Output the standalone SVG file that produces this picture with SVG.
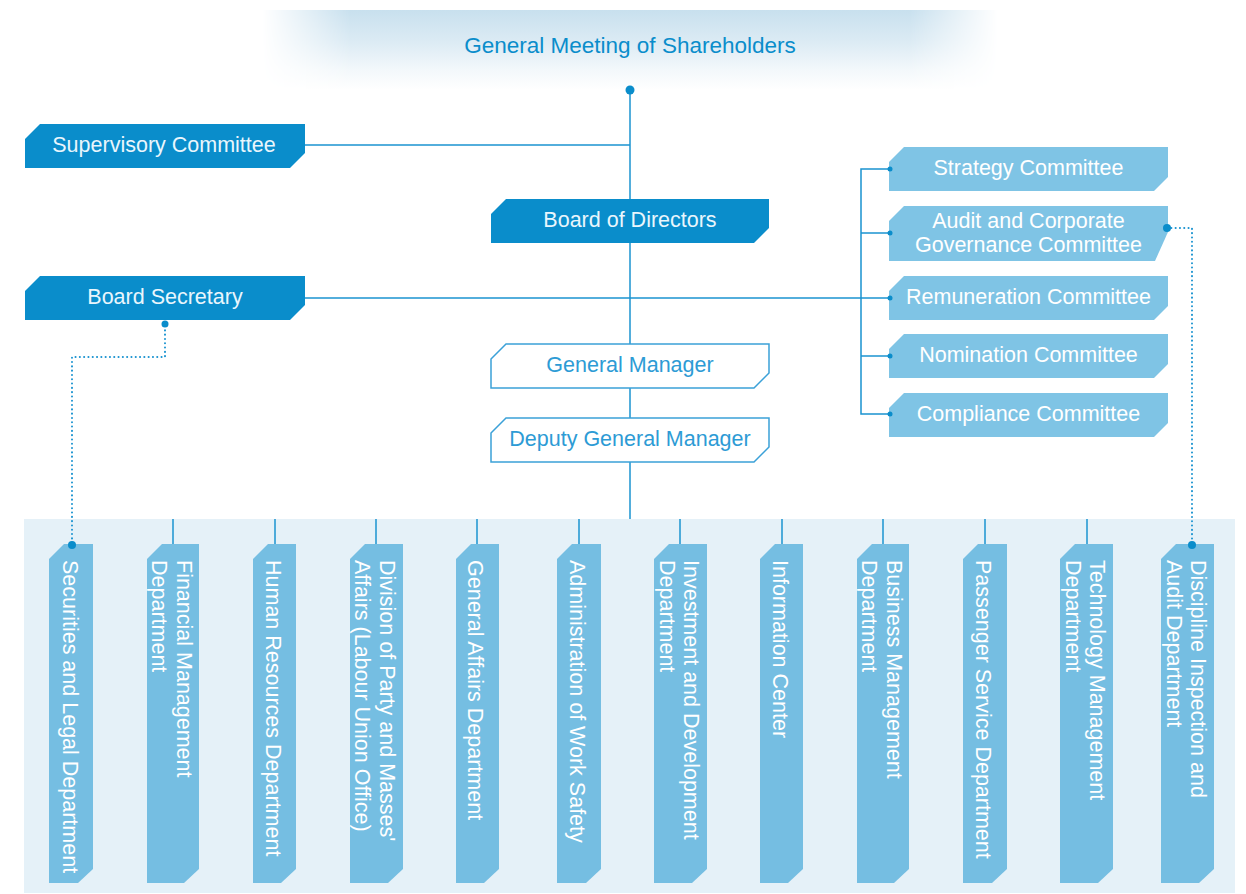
<svg xmlns="http://www.w3.org/2000/svg" width="1246" height="894" viewBox="0 0 1246 894">
<defs>
<linearGradient id="hdr" x1="0" y1="0" x2="0" y2="1">
<stop offset="0" stop-color="#c8e0ee"/>
<stop offset="0.4" stop-color="#dcebf4"/>
<stop offset="0.75" stop-color="#f3f8fb"/>
<stop offset="1" stop-color="#ffffff"/>
</linearGradient>
<linearGradient id="fadeH" x1="0" y1="0" x2="1" y2="0">
<stop offset="0" stop-color="#fff" stop-opacity="0"/>
<stop offset="0.12" stop-color="#fff" stop-opacity="1"/>
<stop offset="0.88" stop-color="#fff" stop-opacity="1"/>
<stop offset="1" stop-color="#fff" stop-opacity="0"/>
</linearGradient>
<mask id="hdrMask" maskUnits="userSpaceOnUse" x="262" y="10" width="736" height="80">
<rect x="262" y="10" width="736" height="80" fill="url(#fadeH)"/>
</mask>
<style>
text{font-family:"Liberation Sans",Arial,Helvetica,sans-serif;font-size:21.5px}
.dark{fill:#0a8dcb}
.light{fill:#7fc4e5}
.dept{fill:#75bee2}
.outline{fill:#ffffff;stroke:#3ba1d8;stroke-width:1.5}
.tw{fill:#e9f6fd;text-anchor:middle}
.tl{fill:#ffffff;text-anchor:middle}
.tb{fill:#2d9bd5;text-anchor:middle}
.td{fill:#ffffff}
.ln{stroke:#1a93d0;stroke-width:1.5;fill:none}
.dot{fill:#0a8dcb}
.dash{stroke:#1a93d0;stroke-width:2;fill:none;stroke-dasharray:0.1 4.2;stroke-linecap:round}
</style>
</defs>
<rect x="0" y="0" width="1246" height="894" fill="#ffffff"/>
<rect x="262" y="10" width="736" height="80" fill="url(#hdr)" mask="url(#hdrMask)"/>
<rect x="24" y="519" width="1211" height="374" fill="#e5f1f8"/>

<g id="connectors">
<line class="ln" x1="630" y1="90" x2="630" y2="519"/>
<line class="ln" x1="305" y1="145" x2="630" y2="145"/>
<line class="ln" x1="305" y1="298" x2="889" y2="298"/>
<polyline class="ln" points="889,169 861,169 861,414 889,414"/>
<line class="ln" x1="861" y1="233" x2="889" y2="233"/>
<line class="ln" x1="861" y1="356" x2="889" y2="356"/>
<line class="ln" x1="173" y1="519" x2="173" y2="544"/>
<line class="ln" x1="275" y1="519" x2="275" y2="544"/>
<line class="ln" x1="376" y1="519" x2="376" y2="544"/>
<line class="ln" x1="477" y1="519" x2="477" y2="544"/>
<line class="ln" x1="579" y1="519" x2="579" y2="544"/>
<line class="ln" x1="680" y1="519" x2="680" y2="544"/>
<line class="ln" x1="782" y1="519" x2="782" y2="544"/>
<line class="ln" x1="883" y1="519" x2="883" y2="544"/>
<line class="ln" x1="985" y1="519" x2="985" y2="544"/>
<line class="ln" x1="1087" y1="519" x2="1087" y2="544"/>
<polyline class="dash" points="165,326 165,357 72,357 72,545"/>
<polyline class="dash" points="1167,228 1192,228 1192,545"/>
</g>

<g id="shareholders">
<text x="630" y="53" style="font-size:22.5px;fill:#0a8dcb;text-anchor:middle">General Meeting of Shareholders</text>
</g>

<g id="supervisory">
<polygon class="dark" points="25,139 40,124 305,124 305,153 290,168 25,168"/>
<text class="tw" x="164" y="152">Supervisory Committee</text>
</g>
<g id="board">
<polygon class="dark" points="491,214 506,199 769,199 769,228 754,243 491,243"/>
<text class="tw" x="630" y="227">Board of Directors</text>
</g>
<g id="secretary">
<polygon class="dark" points="25,291 40,276 305,276 305,305 290,320 25,320"/>
<text class="tw" x="165" y="304">Board Secretary</text>
</g>
<g id="gm">
<polygon class="outline" points="491,359 506,344 769,344 769,373 754,388 491,388"/>
<text class="tb" x="630" y="372">General Manager</text>
</g>
<g id="dgm">
<polygon class="outline" points="491,433 506,418 769,418 769,447 754,462 491,462"/>
<text class="tb" x="630" y="446">Deputy General Manager</text>
</g>

<g id="strategy">
<polygon class="light" points="889,162 904,147 1168,147 1168,177 1154,191 889,191"/>
<text class="tl" x="1028.5" y="175">Strategy Committee</text>
</g>
<g id="audit">
<polygon class="light" points="889,221 904,206 1168,206 1168,232 1155,261 889,261"/>
<text class="tl" x="1028.5" y="227.5">Audit and Corporate</text>
<text class="tl" x="1028.5" y="252">Governance Committee</text>
</g>
<g id="remuneration">
<polygon class="light" points="889,291 904,276 1168,276 1168,306 1154,320 889,320"/>
<text class="tl" x="1028.5" y="304">Remuneration Committee</text>
</g>
<g id="nomination">
<polygon class="light" points="889,349 904,334 1168,334 1168,364 1154,378 889,378"/>
<text class="tl" x="1028.5" y="362">Nomination Committee</text>
</g>
<g id="compliance">
<polygon class="light" points="889,408 904,393 1168,393 1168,423 1154,437 889,437"/>
<text class="tl" x="1028.5" y="421">Compliance Committee</text>
</g>

<g id="dept-securities">
<polygon class="dept" points="49,559 64,544 93,544 93,869 78,883 49,883"/>
<text class="td" transform="translate(62.5,560) rotate(90)">Securities and Legal Department</text>
</g>
<g id="dept-financial">
<polygon class="dept" points="147,559 162,544 199,544 199,869 184,883 147,883"/>
<text class="td" transform="translate(177,560) rotate(90)">Financial Management</text>
<text class="td" transform="translate(152,560) rotate(90)">Department</text>
</g>
<g id="dept-hr">
<polygon class="dept" points="253,559 268,544 296,544 296,869 281,883 253,883"/>
<text class="td" transform="translate(265.5,560) rotate(90)">Human Resources Department</text>
</g>
<g id="dept-party">
<polygon class="dept" points="350,559 365,544 403,544 403,869 388,883 350,883"/>
<text class="td" transform="translate(379.5,560) rotate(90)">Division of Party and Masses'</text>
<text class="td" transform="translate(355,560) rotate(90)">Affairs (Labour Union Office)</text>
</g>
<g id="dept-general">
<polygon class="dept" points="456,559 471,544 499,544 499,869 484,883 456,883"/>
<text class="td" transform="translate(468,560) rotate(90)">General Affairs Department</text>
</g>
<g id="dept-safety">
<polygon class="dept" points="557,559 572,544 601,544 601,869 586,883 557,883"/>
<text class="td" transform="translate(570,560) rotate(90)">Administration of Work Safety</text>
</g>
<g id="dept-investment">
<polygon class="dept" points="654,559 669,544 707,544 707,869 692,883 654,883"/>
<text class="td" transform="translate(684,560) rotate(90)">Investment and Development</text>
<text class="td" transform="translate(659.5,560) rotate(90)">Department</text>
</g>
<g id="dept-info">
<polygon class="dept" points="760,559 775,544 803,544 803,869 788,883 760,883"/>
<text class="td" transform="translate(772.5,560) rotate(90)">Information Center</text>
</g>
<g id="dept-business">
<polygon class="dept" points="857,559 872,544 909,544 909,869 894,883 857,883"/>
<text class="td" transform="translate(887,560) rotate(90)">Business Management</text>
<text class="td" transform="translate(862,560) rotate(90)">Department</text>
</g>
<g id="dept-passenger">
<polygon class="dept" points="963,559 978,544 1007,544 1007,869 992,883 963,883"/>
<text class="td" transform="translate(976,560) rotate(90)">Passenger Service Department</text>
</g>
<g id="dept-technology">
<polygon class="dept" points="1060,559 1075,544 1113,544 1113,869 1098,883 1060,883"/>
<text class="td" transform="translate(1090,560) rotate(90)">Technology Management</text>
<text class="td" transform="translate(1065.5,560) rotate(90)">Department</text>
</g>
<g id="dept-discipline">
<polygon class="dept" points="1161,559 1176,544 1214,544 1214,869 1199,883 1161,883"/>
<text class="td" transform="translate(1191,560) rotate(90)">Discipline Inspection and</text>
<text class="td" transform="translate(1166.5,560) rotate(90)">Audit Department</text>
</g>

<g id="connector-dots">
<circle class="dot" cx="630" cy="90" r="4.5"/>
<circle class="dot" cx="165" cy="324" r="3.5"/>
<circle class="dot" cx="1167" cy="228" r="4"/>
<circle class="dot" cx="72" cy="545" r="4"/>
<circle class="dot" cx="1192" cy="545" r="4"/>
<circle class="dot" cx="890" cy="169" r="2.5"/>
<circle class="dot" cx="890" cy="233" r="2.5"/>
<circle class="dot" cx="890" cy="298" r="2.5"/>
<circle class="dot" cx="890" cy="356" r="2.5"/>
<circle class="dot" cx="890" cy="414" r="2.5"/>
</g>
</svg>
